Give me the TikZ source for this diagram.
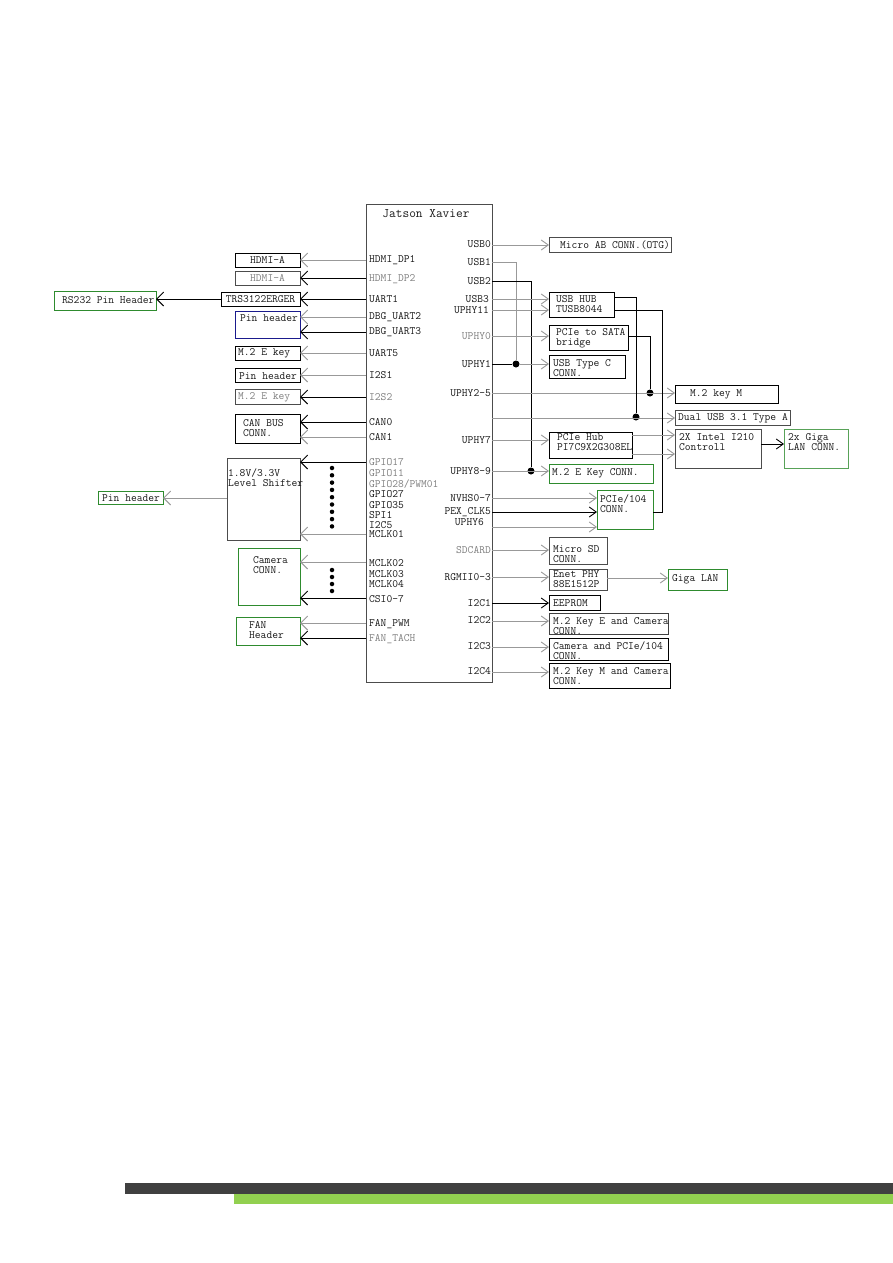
\documentclass[tikz,border=0pt]{standalone}
\usepackage{fontspec}
\usetikzlibrary{arrows.meta}
\newfontfamily\dmono{Latin Modern Mono}
\definecolor{bargreen}{HTML}{92D050}
\definecolor{bardark}{HTML}{404040}
\definecolor{boxgreen}{HTML}{2E8B2E}
\definecolor{boxnavy}{HTML}{1A1A8C}
\begin{document}
\begin{tikzpicture}[x=1pt,y=-1pt,
  txt/.style={font=\dmono\fontsize{11.2}{10}\selectfont, inner sep=0pt, anchor=west, text=black!90, align=left},
  rtxt/.style={txt, anchor=east},
  box/.style={draw=black, line width=0.9pt, anchor=north west, inner sep=0pt, outer sep=0pt},
  gbox/.style={box, draw=boxgreen},
  wl/.style={line width=0.9pt, draw=gray!80},
  bl/.style={line width=0.9pt, draw=black},
  la/.style={-{Straight Barb[length=7pt,width=14pt]}},
  ra/.style={-{Straight Barb[length=7pt,width=10pt]}},
  jdot/.style={circle, fill=black, inner sep=0pt, minimum size=7pt},
  sdot/.style={circle, fill=black, inner sep=0pt, minimum size=4.5pt}
]
\useasboundingbox[fill=white] (0,0) rectangle (893,1263);

% ---------------- main box
\node[box, draw=black!70, minimum width=126, minimum height=478] (soc) at (366,204) {};
\node[txt, anchor=center, font=\dmono\fontsize{13}{13}\selectfont] (title) at (426,214) {Jatson Xavier};

% left pin labels
\node[txt] (tL1) at (369,260) {HDMI\_DP1};
\node[txt, text=gray] (tL2) at (369,279) {HDMI\_DP2};
\node[txt] (tL3) at (369,299) {UART1};
\node[txt] (tL4) at (369,317) {DBG\_UART2};
\node[txt] (tL5) at (369,332) {DBG\_UART3};
\node[txt] (tL6) at (369,353) {UART5};
\node[txt] (tL7) at (369,375) {I2S1};
\node[txt, text=gray] (tL8) at (369,397) {I2S2};
\node[txt] (tL9) at (369,422) {CAN0};
\node[txt] (tL10) at (369,437) {CAN1};
\node[txt, text=gray] (tL11) at (369,462) {GPIO17};
\node[txt, text=gray] (tL12) at (369,473) {GPIO11};
\node[txt, text=gray] (tL13) at (369,484) {GPIO28/PWM01};
\node[txt] (tL14) at (369,494) {GPIO27};
\node[txt] (tL15) at (369,505) {GPIO35};
\node[txt] (tL16) at (369,515) {SPI1};
\node[txt] (tL17) at (369,525) {I2C5};
\node[txt] (tL18) at (369,534) {MCLK01};
\node[txt] (tL19) at (369,563) {MCLK02};
\node[txt] (tL20) at (369,574) {MCLK03};
\node[txt] (tL21) at (369,584) {MCLK04};
\node[txt] (tL22) at (369,599) {CSI0-7};
\node[txt] (tL23) at (369,624) {FAN\_PWM};
\node[txt, text=gray] (tL24) at (369,639) {FAN\_TACH};

% right pin labels
\node[rtxt] (tR1) at (491,244) {USB0};
\node[rtxt] (tR2) at (491,262) {USB1};
\node[rtxt] (tR3) at (491,281) {USB2};
\node[rtxt] (tR4) at (489,299) {USB3};
\node[rtxt] (tR5) at (489,310) {UPHY11};
\node[rtxt, text=gray] (tR6) at (491,336) {UPHY0};
\node[rtxt] (tR7) at (491,364) {UPHY1};
\node[rtxt] (tR8) at (491,393) {UPHY2-5};
\node[rtxt] (tR9) at (491,440) {UPHY7};
\node[rtxt] (tR10) at (491,471) {UPHY8-9};
\node[rtxt] (tR11) at (491,498) {NVHS0-7};
\node[rtxt] (tR12) at (491,512) {PEX\_CLK5};
\node[rtxt] (tR13) at (484,522) {UPHY6};
\node[rtxt, text=gray] (tR14) at (491,550) {SDCARD};
\node[rtxt] (tR15) at (491,577) {RGMII0-3};
\node[rtxt] (tR16) at (491,603) {I2C1};
\node[rtxt] (tR17) at (491,620) {I2C2};
\node[rtxt] (tR18) at (491,646) {I2C3};
\node[rtxt] (tR19) at (491,671) {I2C4};

% ---------------- left boxes
\node[box, minimum width=65, minimum height=14] (hdmi1) at (235,253) {};
\node[txt, anchor=center] (hdmi1t) at (267.5,260) {HDMI-A};
\node[box, draw=black!70, minimum width=65, minimum height=14] (hdmi2) at (235,271) {};
\node[txt, anchor=center, text=gray] (hdmi2t) at (267.5,278) {HDMI-A};
\node[box, minimum width=79, minimum height=14] (trs) at (221,292) {};
\node[txt, anchor=center] (trst) at (260.5,299) {TRS3122ERGER};
\node[gbox, minimum width=102, minimum height=19] (rs232) at (54,291) {};
\node[txt] (rs232t) at (62,300) {RS232 Pin Header};
\node[box, draw=boxnavy, minimum width=65, minimum height=27] (pinh1) at (235,311) {};
\node[txt] (pinh1t) at (240,318) {Pin header};
\node[box, minimum width=65, minimum height=14] (m2e1) at (235,346) {};
\node[txt] (m2e1t) at (238,353) {M.2 E key};
\node[box, minimum width=65, minimum height=14] (pinh2) at (235,368) {};
\node[txt] (pinh2t) at (239,376) {Pin header};
\node[box, draw=black!70, minimum width=65, minimum height=15] (m2e2) at (235,389) {};
\node[txt, text=gray] (m2e2t) at (238,397) {M.2 E key};
\node[box, minimum width=65, minimum height=29] (can) at (235,414) {};
\node[txt] (cant) at (243,428) {CAN BUS\\CONN.};
\node[box, draw=black!70, minimum width=73, minimum height=82] (lvl) at (227,458) {};
\node[txt] (lvlt) at (228,478) {1.8V/3.3V\\Level Shifter};
\node[gbox, minimum width=65, minimum height=13] (pinh3) at (98,491) {};
\node[txt] (pinh3t) at (102,498) {Pin header};
\node[gbox, minimum width=62, minimum height=57] (cam) at (238,548) {};
\node[txt] (camt) at (253,565) {Camera\\CONN.};
\node[gbox, minimum width=64, minimum height=28] (fan) at (236,617) {};
\node[txt] (fant) at (249,630) {FAN\\Header};

% ---------------- right boxes
\node[box, draw=black!70, minimum width=122, minimum height=15] (otg) at (549,237) {};
\node[txt] (otgt) at (560,245) {Micro AB CONN.(OTG)};
\node[box, minimum width=65, minimum height=25] (hub) at (549,292) {};
\node[txt] (hubt) at (556,304.5) {USB HUB\\TUSB8044};
\node[box, minimum width=79, minimum height=25] (sata) at (549,325) {};
\node[txt] (satat) at (556,338) {PCIe to SATA\\bridge};
\node[box, minimum width=76, minimum height=23] (typec) at (549,355) {};
\node[txt] (typect) at (553,368.5) {USB Type C\\CONN.};
\node[box, minimum width=103, minimum height=18] (m2m) at (675,385) {};
\node[txt] (m2mt) at (690,394) {M.2 key M};
\node[box, draw=black!70, minimum width=115, minimum height=15] (dual) at (675,410) {};
\node[txt] (dualt) at (678,418) {Dual USB 3.1 Type A};
\node[box, minimum width=83, minimum height=26] (pcihub) at (549,432) {};
\node[txt] (pcihubt) at (557,442) {PCIe Hub\\PI7C9X2G308EL};
\node[box, draw=black!70, minimum width=86, minimum height=39] (intel) at (675,429) {};
\node[txt] (intelt) at (679,442) {2X Intel I210\\Controll};
\node[gbox, draw=boxgreen!80, minimum width=64, minimum height=39] (giga2) at (784,429) {};
\node[txt] (giga2t) at (788,442) {2x Giga\\LAN CONN.};
\node[gbox, minimum width=104, minimum height=19] (m2ekey) at (549,464) {};
\node[txt] (m2ekeyt) at (552,473) {M.2 E Key CONN.};
\node[gbox, minimum width=56, minimum height=39] (pci104) at (597,490) {};
\node[txt] (pci104t) at (600,503.5) {PCIe/104\\CONN.};
\node[box, draw=black!70, minimum width=58, minimum height=27] (sd) at (549,537) {};
\node[txt] (sdt) at (553,554) {Micro SD\\CONN.};
\node[box, draw=black!70, minimum width=58, minimum height=21] (enet) at (549,569) {};
\node[txt] (enett) at (553,579.5) {Enet PHY\\88E1512P};
\node[gbox, minimum width=59, minimum height=21] (gigalan) at (668,569) {};
\node[txt] (gigalant) at (672,579) {Giga LAN};
\node[box, minimum width=51, minimum height=15] (eeprom) at (549,595) {};
\node[txt] (eepromt) at (553,603) {EEPROM};
\node[box, draw=black!75, minimum width=119, minimum height=21] (i2c2b) at (549,613) {};
\node[txt] (i2c2t) at (553,626) {M.2 Key E and Camera\\CONN.};
\node[box, minimum width=119, minimum height=22] (i2c3b) at (549,638) {};
\node[txt] (i2c3t) at (553,651) {Camera and PCIe/104\\CONN.};
\node[box, minimum width=121, minimum height=25] (i2c4b) at (549,663) {};
\node[txt] (i2c4t) at (553,676.5) {M.2 Key M and Camera\\CONN.};

% ---------------- pin coordinates (on main box edges)
\coordinate (pL1) at (366,260);
\coordinate (pL2) at (366,278);
\coordinate (pL3) at (366,299);
\coordinate (pL4) at (366,317);
\coordinate (pL5) at (366,332);
\coordinate (pL6) at (366,353);
\coordinate (pL7) at (366,375);
\coordinate (pL8) at (366,397);
\coordinate (pL9) at (366,422);
\coordinate (pL10) at (366,437);
\coordinate (pL11) at (366,462);
\coordinate (pL18) at (366,534);
\coordinate (pL19) at (366,562);
\coordinate (pL22) at (366,598);
\coordinate (pL23) at (366,623);
\coordinate (pL24) at (366,638);
\coordinate (lvlout) at (227,498);
\coordinate (trsout) at (221,299);

\coordinate (pR0) at (492,245);
\coordinate (pR1) at (492,262);
\coordinate (pR2) at (492,281);
\coordinate (pR3) at (492,299);
\coordinate (pR11) at (492,310);
\coordinate (pRu0) at (492,336);
\coordinate (pRu1) at (492,364);
\coordinate (pRu25) at (492,393);
\coordinate (pRx) at (492,418);
\coordinate (pRu7) at (492,440);
\coordinate (pRu89) at (492,471);
\coordinate (pRnv) at (492,498);
\coordinate (pRpex) at (492,512);
\coordinate (pRu6) at (492,527);
\coordinate (pRsd) at (492,550);
\coordinate (pRrg) at (492,577);
\coordinate (pRi1) at (492,603);
\coordinate (pRi2) at (492,621);
\coordinate (pRi3) at (492,647);
\coordinate (pRi4) at (492,672);

% junction dots
\node[jdot] (j1) at (516,364) {};
\node[jdot] (j2) at (531,471) {};
\node[jdot] (j3) at (650,393) {};
\node[jdot] (j4) at (636,417) {};

% ---------------- left connectors
\draw[wl,la] (pL1) -- (hdmi1.east |- pL1);
\draw[bl,la] (pL2) -- (hdmi2.east |- pL2);
\draw[bl,la] (pL3) -- (trs.east |- pL3);
\draw[bl,la] (trsout) -- (rs232.east |- trsout);
\draw[wl,la] (pL4) -- (pinh1.east |- pL4);
\draw[bl,la] (pL5) -- (pinh1.east |- pL5);
\draw[wl,la] (pL6) -- (m2e1.east |- pL6);
\draw[wl,la] (pL7) -- (pinh2.east |- pL7);
\draw[bl,la] (pL8) -- (m2e2.east |- pL8);
\draw[bl,la] (pL9) -- (can.east |- pL9);
\draw[wl,la] (pL10) -- (can.east |- pL10);
\draw[bl,la] (pL11) -- (lvl.east |- pL11);
\draw[wl,la] (pL18) -- (lvl.east |- pL18);
\draw[wl,la] (lvlout) -- (pinh3.east |- lvlout);
\draw[wl,la] (pL19) -- (cam.east |- pL19);
\draw[bl,la] (pL22) -- (cam.east |- pL22);
\draw[wl,la] (pL23) -- (fan.east |- pL23);
\draw[bl,la] (pL24) -- (fan.east |- pL24);

% dot columns
\foreach \k in {0,...,8} {\node[sdot] (da\k) at (332,{468+7.3*\k}) {};}
\foreach \k in {0,...,3} {\node[sdot] (db\k) at (332,{570+7*\k}) {};}

% ---------------- right connectors
\draw[wl,ra] (pR0) -- (otg.west |- pR0);
\draw[wl] (pR1) -| (j1);
\draw[bl] (pR2) -| (j2);
\draw[wl,ra] (pR3) -- (hub.west |- pR3);
\draw[wl,ra] (pR11) -- (hub.west |- pR11);
\draw[wl,ra] (pRu0) -- (sata.west |- pRu0);
\draw[bl] (pRu1) -- (j1);
\draw[wl,ra] (j1) -- (typec.west |- j1);
\draw[wl,ra] (pRu25) -- (m2m.west |- pRu25);
\draw[wl,ra] (pRx) -- (dual.west |- pRx);
\draw[wl,ra] (pRu7) -- (pcihub.west |- pRu7);
\draw[wl,ra] (pRu89) -- (m2ekey.west |- pRu89);
\draw[wl,ra] (pRnv) -- (pci104.west |- pRnv);
\draw[bl,ra] (pRpex) -- (pci104.west |- pRpex);
\draw[wl,ra] (pRu6) -- (pci104.west |- pRu6);
\draw[wl,ra] (pRsd) -- (sd.west |- pRsd);
\draw[wl,ra] (pRrg) -- (enet.west |- pRrg);
\draw[wl,ra] (enet.east |- 0,578) -- (gigalan.west |- 0,578);
\draw[bl,ra] (pRi1) -- (eeprom.west |- pRi1);
\draw[wl,ra] (pRi2) -- (i2c2b.west |- pRi2);
\draw[wl,ra] (pRi3) -- (i2c3b.west |- pRi3);
\draw[wl,ra] (pRi4) -- (i2c4b.west |- pRi4);

\draw[bl] (hub.east |- 0,297) -| (j4);
\draw[bl] (hub.east |- 0,310) -- (662,310) -- (662,512) -- (pci104.east |- 0,512);
\draw[bl] (sata.east |- 0,336) -| (j3);
\draw[wl,ra] (pcihub.east |- 0,435) -- (intel.west |- 0,435);
\draw[wl,ra] (pcihub.east |- 0,454) -- (intel.west |- 0,454);
\draw[bl,ra] (intel.east |- 0,444) -- (giga2.west |- 0,444);

% ---------------- footer bars
\fill[bardark] (125,1183) rectangle (893,1193.5);
\fill[bargreen] (234,1193.5) rectangle (893,1204);
\end{tikzpicture}
\end{document}
